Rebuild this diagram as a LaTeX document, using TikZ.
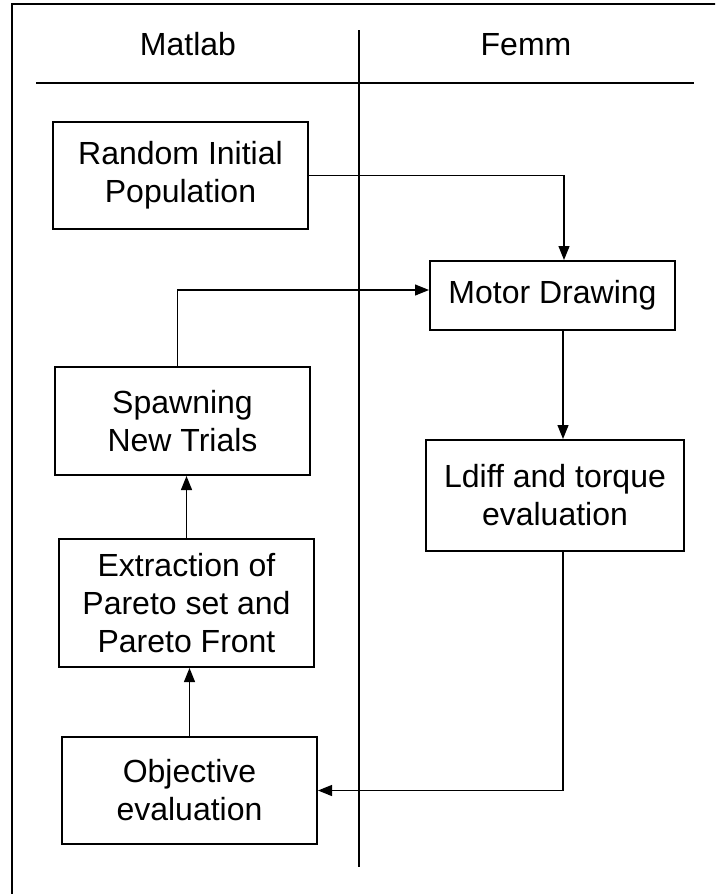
\documentclass[tikz,border=0pt]{standalone}
\usepackage{fontspec}
\setmainfont{Liberation Sans}
\usetikzlibrary{arrows.meta}
\begin{document}
\begin{tikzpicture}[x=1pt,y=-1pt,
  every node/.style={font=\fontsize{32}{38}\selectfont},
  procbox/.style={draw, line width=2pt, align=center, inner sep=0pt},
  conn/.style={line width=1.2pt, -{Triangle[length=14pt,width=11pt]}},
  rule/.style={line width=2pt}]
  \useasboundingbox (0,0) rectangle (715,894);
  \clip (0,0) rectangle (715,894);

  % outer frame (runs off the page on the right and bottom)
  \draw[line width=1.6pt] (12,900) -- (12,4) -- (720,4);

  % swim-lane headings
  \node[anchor=base] (hmat) at (188,55) {Matlab};
  \node[anchor=base] (hfem) at (526,55) {Femm};
  \draw[rule] (36,83) -- (694,83);
  \draw[line width=1.2pt] (359,30) -- (359,867);

  % process boxes
  \node[procbox, minimum width=255pt, minimum height=107pt] (rand) at (180.5,175.5) {Random Initial\\Population};
  \node[procbox, minimum width=245pt, minimum height=69pt] (motor) at (552.5,295.5) {Motor Drawing};
  \node[procbox, minimum width=255pt, minimum height=108pt] (spawn) at (182.5,421) {Spawning\\New Trials};
  \node[procbox, minimum width=258pt, minimum height=111pt] (ldiff) at (555,495.5) {Ldiff and torque\\ evaluation};
  \node[procbox, minimum width=255pt, minimum height=128pt] (extr) at (186.5,603) {Extraction of\\Pareto set and\\Pareto Front};
  \node[procbox, minimum width=255pt, minimum height=107pt] (obj) at (189.5,790.5) {Objective\\evaluation};

  % connectors
  \draw[conn] (rand.east) -| ([xshift=11.5pt]motor.north);
  \draw[conn] ([xshift=-5pt]spawn.north) |- ([yshift=5.5pt]motor.west);
  \draw[conn] ([xshift=10.5pt]motor.south) -- ([xshift=8pt]ldiff.north);
  \draw[conn] ([xshift=8pt]ldiff.south) |- (obj.east);
  \draw[conn] (obj.north) -- (obj.north |- extr.south);
  \draw[conn] (extr.north) -- (extr.north |- spawn.south);
\end{tikzpicture}
\end{document}
